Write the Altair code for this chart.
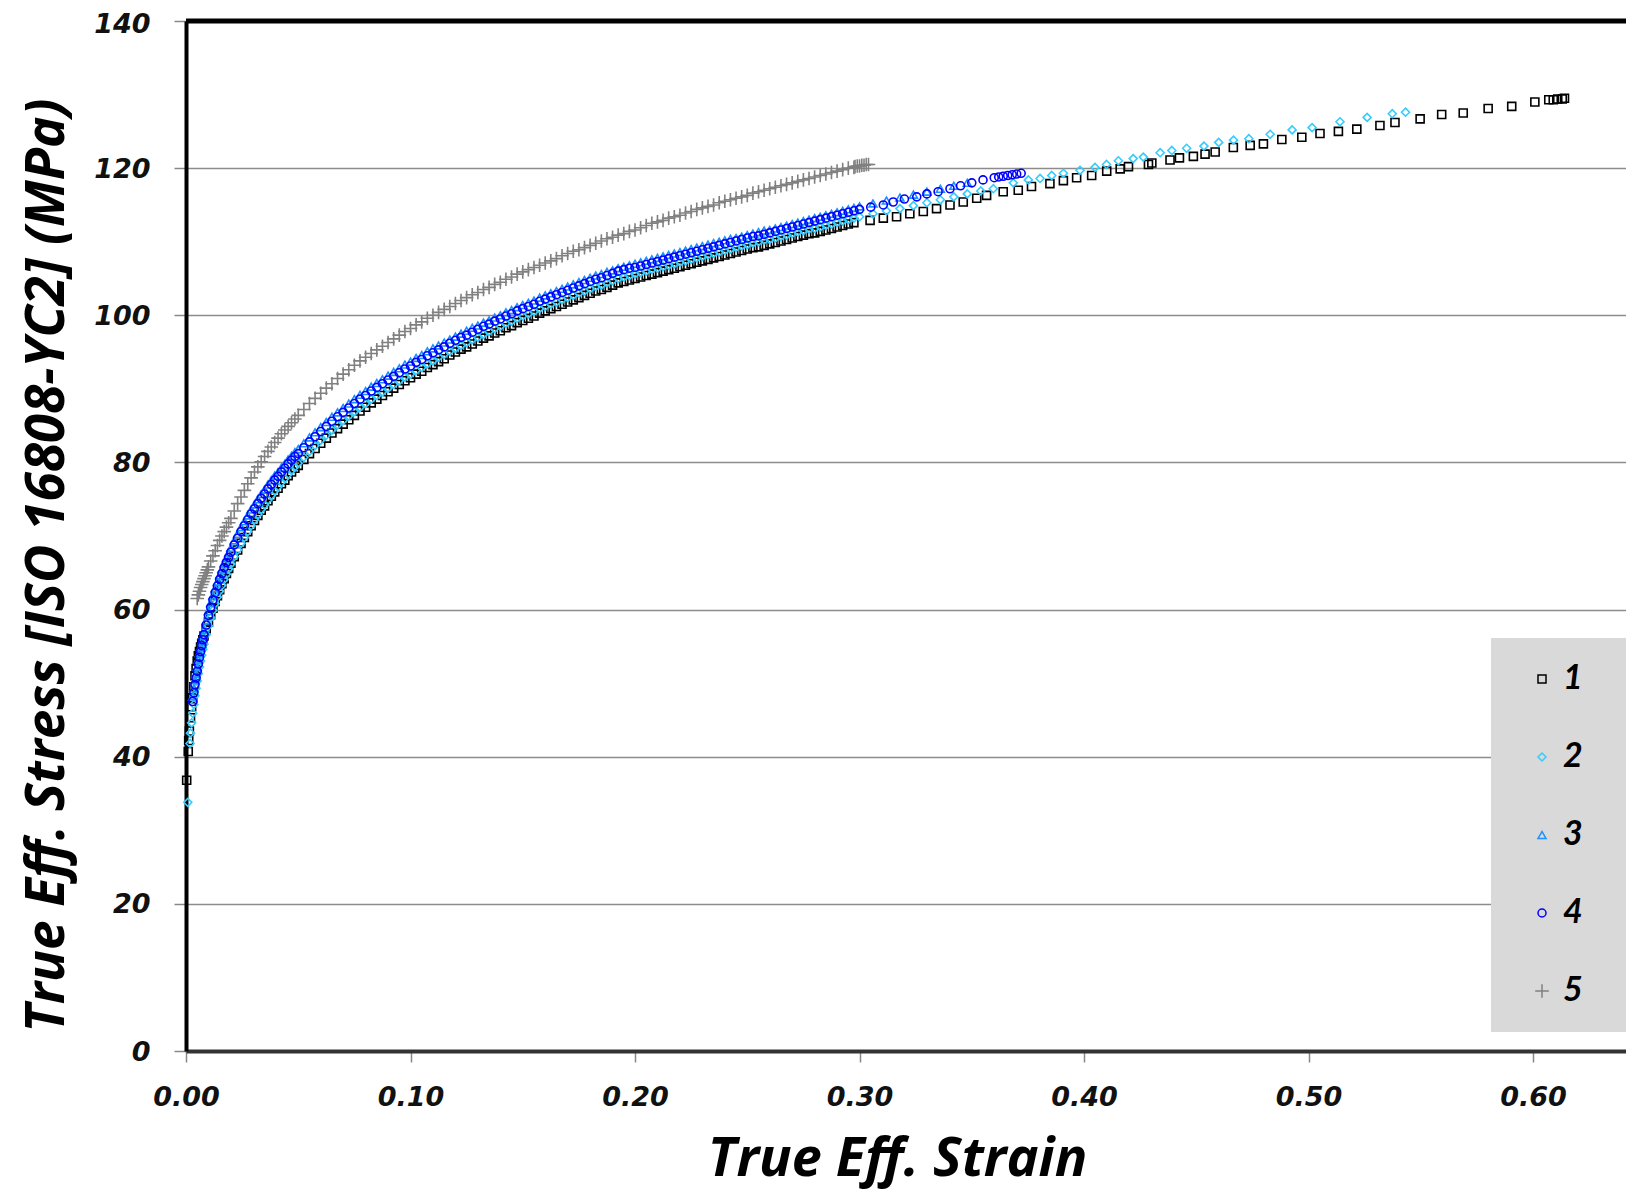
import altair as alt
import pandas as pd

# ---- data ----
series_names = ["1", "2", "3", "4", "5"]
series_colors = ["#000000", "#33ccff", "#1e90ff", "#0000ff", "#808080"]

strain_grid = [0.003, 0.004, 0.005, 0.006, 0.007, 0.008, 0.010, 0.012, 0.014, 0.016, 0.018, 0.020,
               0.023, 0.026, 0.029, 0.032, 0.035, 0.038, 0.041, 0.044, 0.047, 0.050,
               0.055, 0.060, 0.065, 0.070, 0.075, 0.080, 0.085, 0.090, 0.095, 0.100,
               0.105, 0.110, 0.115, 0.120, 0.125, 0.130, 0.135, 0.140, 0.145, 0.150,
               0.155, 0.160, 0.165, 0.170, 0.175, 0.180, 0.185, 0.190, 0.195, 0.200,
               0.205, 0.210, 0.215, 0.220, 0.225, 0.230, 0.235, 0.240, 0.245, 0.250,
               0.255, 0.260, 0.265, 0.270, 0.275, 0.280, 0.285, 0.290, 0.295]
strain_mid = [0.0035, 0.0045, 0.0055, 0.0065, 0.0075, 0.009, 0.011, 0.013, 0.015, 0.017, 0.019,
              0.0215, 0.0245, 0.0275, 0.0305, 0.0335, 0.0365, 0.0395, 0.0425, 0.0455, 0.0485,
              0.0525, 0.0575, 0.0625, 0.0675, 0.0725, 0.0775, 0.0825, 0.0875, 0.0925, 0.0975,
              0.1025, 0.1075, 0.1125, 0.1175, 0.1225, 0.1275, 0.1325, 0.1375, 0.1425, 0.1475,
              0.1525, 0.1575, 0.1625, 0.1675, 0.1725, 0.1775, 0.1825, 0.1875, 0.1925, 0.1975,
              0.2025, 0.2075, 0.2125, 0.2175, 0.2225, 0.2275, 0.2325, 0.2375, 0.2425, 0.2475,
              0.2525, 0.2575, 0.2625, 0.2675, 0.2725, 0.2775, 0.2825, 0.2875, 0.2925, 0.2975]

s1_head_strain = [0.0003, 0.001, 0.0012, 0.0015, 0.002, 0.0025]
s1_head_stress = [36.8, 40.7, 42.2, 43.5, 45.3, 46.8]
s1_grid_stress = [48.0, 51.0, 53.0, 54.3, 55.4, 56.4, 58.3, 60.2, 61.9, 63.5, 64.9, 66.3,
                  68.1, 69.8, 71.4, 72.8, 74.1, 75.4, 76.5, 77.6, 78.7, 79.6,
                  81.2, 82.6, 84.0, 85.2, 86.4, 87.5, 88.6, 89.6, 90.6, 91.5,
                  92.4, 93.3, 94.1, 95.0, 95.7, 96.5, 97.2, 97.9, 98.6, 99.3,
                  99.9, 100.6, 101.2, 101.8, 102.4, 103.0, 103.5, 104.1, 104.6, 105.0,
                  105.4, 105.8, 106.2, 106.6, 107.0, 107.4, 107.8, 108.2, 108.6, 109.0,
                  109.3, 109.7, 110.1, 110.5, 110.9, 111.2, 111.6, 112.0, 112.4]
s1_mid_stress = [49.5, 52.0, 53.7, 54.9, 55.9, 57.4, 59.3, 61.1, 62.7, 64.2, 65.6,
                 67.2, 69.0, 70.6, 72.1, 73.5, 74.8, 76.0, 77.1, 78.2, 79.2,
                 80.4, 81.9, 83.3, 84.6, 85.8, 87.0, 88.1, 89.1, 90.1, 91.1,
                 92.0, 92.9, 93.7, 94.6, 95.4, 96.1, 96.9, 97.6, 98.3, 99.0,
                 99.6, 100.3, 100.9, 101.5, 102.1, 102.7, 103.3, 103.8, 104.4, 104.8,
                 105.2, 105.6, 106.0, 106.4, 106.8, 107.2, 107.6, 108.0, 108.4, 108.8,
                 109.2, 109.5, 109.9, 110.3, 110.7, 111.1, 111.4, 111.8, 112.2, 112.6]
s1_tail_strain = [0.3047, 0.3106, 0.3165, 0.3224, 0.3284, 0.3343, 0.3403, 0.3462, 0.3522, 0.3566,
                  0.364, 0.3707, 0.3766, 0.3848, 0.3908, 0.3967, 0.4034, 0.4101, 0.4161, 0.4198,
                  0.4287, 0.4302, 0.4383, 0.4425, 0.4487, 0.4539, 0.4584, 0.4665, 0.474, 0.4799,
                  0.4881, 0.497, 0.5051, 0.5133, 0.5215, 0.5318, 0.5385, 0.5497, 0.5593, 0.5689,
                  0.580, 0.5905, 0.6008, 0.607, 0.609, 0.611, 0.613, 0.614]
s1_tail_stress = [112.9, 113.2, 113.4, 113.8, 114.1, 114.5, 115.0, 115.4, 115.9, 116.3,
                  116.8, 117.0, 117.5, 117.9, 118.3, 118.7, 119.0, 119.6, 119.9, 120.2,
                  120.5, 120.7, 121.1, 121.4, 121.6, 121.9, 122.2, 122.8, 123.1, 123.3,
                  123.9, 124.2, 124.7, 125.0, 125.3, 125.8, 126.2, 126.7, 127.3, 127.5,
                  128.1, 128.4, 129.0, 129.3, 129.3, 129.4, 129.4, 129.5]

s2_head_strain = [0.0008, 0.0018, 0.002, 0.0025]
s2_head_stress = [33.8, 41.8, 43.2, 44.6]
s2_grid_stress = [45.9, 48.3, 50.3, 52.2, 53.8, 55.3, 57.8, 59.9, 61.7, 63.3, 64.8, 66.2,
                  68.1, 69.8, 71.4, 72.9, 74.2, 75.5, 76.7, 77.8, 78.9, 79.9,
                  81.5, 83.0, 84.4, 85.7, 86.9, 88.0, 89.1, 90.1, 91.1, 92.0,
                  92.9, 93.8, 94.7, 95.5, 96.3, 97.0, 97.8, 98.5, 99.2, 99.9,
                  100.5, 101.2, 101.8, 102.4, 103.0, 103.6, 104.1, 104.7, 105.2, 105.6,
                  106.0, 106.4, 106.8, 107.2, 107.6, 108.0, 108.4, 108.8, 109.2, 109.6,
                  110.0, 110.3, 110.7, 111.1, 111.5, 111.8, 112.2, 112.6, 113.0]
s2_mid_stress = [47.1, 49.3, 51.3, 53.0, 54.6, 56.6, 58.9, 60.8, 62.5, 64.1, 65.5,
                 67.2, 69.0, 70.6, 72.2, 73.6, 74.9, 76.1, 77.3, 78.4, 79.4,
                 80.7, 82.3, 83.7, 85.1, 86.3, 87.5, 88.6, 89.6, 90.6, 91.6,
                 92.5, 93.4, 94.3, 95.1, 95.9, 96.7, 97.4, 98.2, 98.9, 99.6,
                 100.2, 100.9, 101.5, 102.1, 102.7, 103.3, 103.9, 104.4, 105.0, 105.4,
                 105.8, 106.2, 106.6, 107.0, 107.4, 107.8, 108.2, 108.6, 109.0, 109.4,
                 109.8, 110.2, 110.5, 110.9, 111.3, 111.7, 112.0, 112.4, 112.8, 113.2]
s2_tail_strain = [0.300, 0.306, 0.312, 0.318, 0.324, 0.330, 0.336, 0.342, 0.348, 0.354,
                  0.3596, 0.3685, 0.3752, 0.3804, 0.3856, 0.3908, 0.3982, 0.4049, 0.410, 0.4153,
                  0.4219, 0.4264, 0.4339, 0.4391, 0.4457, 0.4534, 0.460, 0.4666, 0.4734, 0.4829,
                  0.4927, 0.5016, 0.514, 0.5261, 0.5373, 0.5432]
s2_tail_stress = [113.4, 113.8, 114.2, 114.5, 114.9, 115.3, 115.7, 116.1, 116.5, 116.9,
                  117.2, 118.0, 118.4, 118.6, 119.0, 119.3, 119.7, 120.1, 120.5, 121.0,
                  121.3, 121.5, 122.1, 122.4, 122.7, 123.0, 123.5, 123.8, 124.0, 124.6,
                  125.2, 125.5, 126.3, 126.9, 127.4, 127.6]

s3_grid_stress = [48.2, 50.4, 52.2, 54.1, 55.7, 57.2, 59.8, 61.9, 63.8, 65.5, 67.0, 68.4,
                  70.3, 72.0, 73.6, 75.0, 76.3, 77.6, 78.7, 79.8, 80.9, 81.8,
                  83.4, 84.8, 86.2, 87.4, 88.6, 89.7, 90.8, 91.8, 92.8, 93.7,
                  94.6, 95.5, 96.3, 97.1, 97.9, 98.6, 99.3, 100.0, 100.7, 101.4,
                  102.0, 102.7, 103.3, 103.9, 104.5, 105.1, 105.6, 106.1, 106.6, 107.0,
                  107.4, 107.8, 108.2, 108.6, 109.0, 109.4, 109.8, 110.2, 110.5, 110.9,
                  111.3, 111.6, 112.0, 112.4, 112.8, 113.2, 113.6, 114.0, 114.4]
s3_mid_stress = [49.3, 51.3, 53.2, 54.9, 56.5, 58.5, 60.9, 62.9, 64.7, 66.3, 67.7,
                 69.4, 71.2, 72.8, 74.3, 75.7, 77.0, 78.2, 79.3, 80.4, 81.4,
                 82.6, 84.1, 85.5, 86.8, 88.0, 89.2, 90.3, 91.3, 92.3, 93.3,
                 94.2, 95.1, 95.9, 96.7, 97.5, 98.3, 99.0, 99.7, 100.4, 101.1,
                 101.7, 102.4, 103.0, 103.6, 104.2, 104.8, 105.4, 105.9, 106.4, 106.8,
                 107.2, 107.6, 108.0, 108.4, 108.8, 109.2, 109.6, 110.0, 110.4, 110.7,
                 111.1, 111.5, 111.8, 112.2, 112.6, 113.0, 113.4, 113.8, 114.2, 114.6]
s3_tail_strain = [0.300, 0.306, 0.312, 0.318, 0.324, 0.330, 0.336, 0.342, 0.348]
s3_tail_stress = [114.8, 115.2, 115.6, 116.0, 116.4, 116.8, 117.2, 117.6, 118.0]

s4_grid_stress = [47.5, 49.8, 51.6, 53.5, 55.1, 56.6, 59.2, 61.3, 63.2, 64.9, 66.4, 67.8,
                  69.7, 71.4, 73.0, 74.4, 75.7, 77.0, 78.1, 79.2, 80.3, 81.2,
                  82.8, 84.2, 85.6, 86.8, 88.0, 89.1, 90.2, 91.2, 92.2, 93.1,
                  94.0, 94.9, 95.7, 96.6, 97.3, 98.1, 98.8, 99.5, 100.2, 100.9,
                  101.5, 102.2, 102.8, 103.4, 104.0, 104.6, 105.1, 105.7, 106.2, 106.5,
                  106.9, 107.3, 107.7, 108.1, 108.5, 108.9, 109.3, 109.7, 110.1, 110.5,
                  110.8, 111.2, 111.6, 112.0, 112.4, 112.8, 113.2, 113.6, 114.0]
s4_mid_stress = [48.7, 50.7, 52.6, 54.3, 55.9, 57.9, 60.3, 62.3, 64.1, 65.7, 67.1,
                 68.8, 70.6, 72.2, 73.7, 75.1, 76.4, 77.6, 78.7, 79.8, 80.8,
                 82.0, 83.5, 84.9, 86.2, 87.4, 88.6, 89.7, 90.7, 91.7, 92.7,
                 93.6, 94.5, 95.3, 96.2, 97.0, 97.7, 98.5, 99.2, 99.9, 100.6,
                 101.2, 101.9, 102.5, 103.1, 103.7, 104.3, 104.9, 105.4, 106.0, 106.4,
                 106.7, 107.1, 107.5, 107.9, 108.3, 108.7, 109.1, 109.5, 109.9, 110.3,
                 110.7, 111.0, 111.4, 111.8, 112.2, 112.6, 113.0, 113.4, 113.8, 114.2]
s4_tail_strain = [0.300, 0.305, 0.3106, 0.315, 0.320, 0.3255, 0.330, 0.335, 0.3403, 0.345,
                  0.350, 0.355, 0.360, 0.362, 0.364, 0.366, 0.368, 0.370, 0.372]
s4_tail_stress = [114.4, 114.7, 115.0, 115.4, 115.8, 116.1, 116.5, 116.8, 117.2, 117.6,
                  118.0, 118.4, 118.7, 118.8, 118.9, 119.0, 119.1, 119.2, 119.3]

s5_strain = [0.005, 0.006, 0.007, 0.008, 0.009, 0.010, 0.012, 0.014, 0.016, 0.018, 0.020,
             0.023, 0.026, 0.029, 0.032, 0.035, 0.038, 0.041, 0.044, 0.047, 0.050,
             0.055, 0.060, 0.065, 0.070, 0.075, 0.080, 0.085, 0.090, 0.095, 0.100,
             0.105, 0.110, 0.115, 0.120, 0.125, 0.130, 0.135, 0.140, 0.145, 0.150,
             0.155, 0.160, 0.165, 0.170, 0.175, 0.180, 0.185, 0.190, 0.195, 0.200,
             0.205, 0.210, 0.215, 0.220, 0.225, 0.230, 0.235, 0.240, 0.245, 0.250,
             0.255, 0.260, 0.265, 0.270, 0.275, 0.280, 0.285, 0.290, 0.295,
             0.298, 0.300, 0.302, 0.304]
s5_stress = [61.5, 62.5, 63.4, 64.2, 65.0, 65.8, 67.3, 68.7, 70.0, 71.2, 72.4,
             74.4, 76.2, 77.9, 79.4, 80.8, 82.1, 83.3, 84.4, 85.4, 86.4,
             88.0, 89.4, 90.7, 92.0, 93.2, 94.3, 95.3, 96.3, 97.3, 98.2,
             99.1, 100.0, 100.8, 101.6, 102.4, 103.1, 103.8, 104.5, 105.2, 105.9,
             106.5, 107.1, 107.7, 108.4, 108.9, 109.5, 110.1, 110.6, 111.1, 111.6,
             112.2, 112.7, 113.2, 113.6, 114.1, 114.6, 115.0, 115.5, 115.9, 116.3,
             116.8, 117.2, 117.6, 118.0, 118.4, 118.8, 119.2, 119.6, 120.0,
             120.2, 120.3, 120.4, 120.5]
s5_mid_strain = [0.0055, 0.0065, 0.0075, 0.0085, 0.0095, 0.011, 0.013, 0.015, 0.017, 0.019,
                 0.0215, 0.0245, 0.0275, 0.0305, 0.0335, 0.0365, 0.0395, 0.0425, 0.0455, 0.0485,
                 0.0525, 0.0575, 0.0625, 0.0675, 0.0725, 0.0775, 0.0825, 0.0875, 0.0925, 0.0975,
                 0.1025, 0.1075, 0.1125, 0.1175, 0.1225, 0.1275, 0.1325, 0.1375, 0.1425, 0.1475,
                 0.1525, 0.1575, 0.1625, 0.1675, 0.1725, 0.1775, 0.1825, 0.1875, 0.1925, 0.1975,
                 0.2025, 0.2075, 0.2125, 0.2175, 0.2225, 0.2275, 0.2325, 0.2375, 0.2425, 0.2475,
                 0.2525, 0.2575, 0.2625, 0.2675, 0.2725, 0.2775, 0.2825, 0.2875, 0.2925, 0.2975,
                 0.299, 0.301, 0.303]
s5_mid_stress = [62.0, 63.0, 63.8, 64.6, 65.4, 66.6, 68.0, 69.4, 70.6, 71.8,
                 73.4, 75.3, 77.1, 78.7, 80.1, 81.5, 82.7, 83.9, 84.9, 85.9,
                 87.2, 88.7, 90.1, 91.4, 92.6, 93.8, 94.8, 95.8, 96.8, 97.8,
                 98.7, 99.6, 100.4, 101.2, 102.0, 102.8, 103.5, 104.2, 104.9, 105.6,
                 106.2, 106.8, 107.4, 108.1, 108.7, 109.2, 109.8, 110.4, 110.9, 111.4,
                 111.9, 112.5, 112.9, 113.4, 113.9, 114.4, 114.8, 115.3, 115.7, 116.1,
                 116.6, 117.0, 117.4, 117.8, 118.2, 118.6, 119.0, 119.4, 119.8, 120.1,
                 120.3, 120.4, 120.5]

x_ticks = [0.0, 0.1, 0.2, 0.3, 0.4, 0.5, 0.6]
y_ticks = [0, 20, 40, 60, 80, 100, 120, 140]
x_title = "True Eff. Strain"
y_title = "True Eff. Stress [ISO 16808-YC2] (MPa)"

# ---- table ----
rows = []
def add(name, xs, ys):
    for a, b in zip(xs, ys):
        rows.append({"strain": a, "stress": b, "series": name})

add("1", s1_head_strain, s1_head_stress)
add("1", strain_grid, s1_grid_stress)
add("1", strain_mid, s1_mid_stress)
add("1", s1_tail_strain, s1_tail_stress)
add("2", s2_head_strain, s2_head_stress)
add("2", strain_grid, s2_grid_stress)
add("2", strain_mid, s2_mid_stress)
add("2", s2_tail_strain, s2_tail_stress)
add("3", strain_grid, s3_grid_stress)
add("3", strain_mid, s3_mid_stress)
add("3", s3_tail_strain, s3_tail_stress)
add("4", strain_grid, s4_grid_stress)
add("4", strain_mid, s4_mid_stress)
add("4", s4_tail_strain, s4_tail_stress)
add("5", s5_strain, s5_stress)
add("5", s5_mid_strain, s5_mid_stress)
df = pd.DataFrame(rows)

tick_font = "DejaVu Sans"
title_font = "Open Sans"
legend_font = "Lato"

legend = alt.Legend(
    title=None, orient="none", legendX=1305, legendY=617,
    fillColor="#d9d9d9", padding=24, rowPadding=44,
    symbolOffset=10, labelOffset=4, symbolStrokeWidth=1.5,
    labelExpr="datum.label + '\u2800'",
    labelFont=legend_font, labelFontSize=34, labelFontWeight="bold",
    labelFontStyle="italic", labelColor="#000000",
)

points = alt.Chart(df).mark_point(filled=False, strokeWidth=1.6, opacity=1).encode(
    x=alt.X("strain:Q",
            scale=alt.Scale(domain=[0, 0.6414], nice=False, zero=False),
            axis=alt.Axis(values=x_ticks, format=".2f", title=x_title, grid=False,
                          domainColor="#333333", domainWidth=4,
                          tickColor="#888888", tickSize=11, tickWidth=1.5,
                          labelFont=tick_font, labelFontSize=27, labelFontWeight="bold",
                          labelFontStyle="italic", labelColor="#111111", labelPadding=22,
                          labelFlush=False,
                          titleFont=title_font, titleFontSize=54, titleFontWeight="bold",
                          titleFontStyle="italic", titleColor="#000000",
                          titleX=711, titleY=124, titleAlign="center",
                          titleBaseline="alphabetic")),
    y=alt.Y("stress:Q",
            scale=alt.Scale(domain=[0, 140], nice=False),
            axis=alt.Axis(values=y_ticks, title=y_title, grid=True,
                          gridColor="#8c8c8c", gridWidth=1.5,
                          domainColor="#000000", domainWidth=4,
                          tickColor="#888888", tickSize=12, tickWidth=1.5,
                          labelFont=tick_font, labelFontSize=27, labelFontWeight="bold",
                          labelFontStyle="italic", labelColor="#111111", labelPadding=24,
                          labelFlush=False,
                          labelOffset={"condition": {"test": "datum.value == 140", "value": 3},
                                       "value": 1},
                          titleFont=title_font, titleFontSize=53, titleFontWeight="bold",
                          titleFontStyle="italic", titleColor="#000000",
                          titleX=-123, titleY=544, titleAngle=270, titleAlign="center",
                          titleBaseline="alphabetic")),
    color=alt.Color("series:N", scale=alt.Scale(domain=series_names, range=series_colors),
                    legend=legend),
    shape=alt.Shape("series:N", scale=alt.Scale(
        domain=series_names,
        range=["square", "diamond", "triangle-up", "circle", "M-1.7,0H1.7M0,-1.7V1.7"]),
        legend=legend),
    size=alt.Size("series:N", scale=alt.Scale(domain=series_names,
                                              range=[64, 64, 50, 60, 100]),
                  legend=legend),
)

top_border = alt.Chart(pd.DataFrame({"stress": [140]})).mark_rule(
    color="#000000", strokeWidth=5).encode(
    y=alt.Y("stress:Q", title=y_title))

chart = alt.layer(points, top_border).properties(
    width=1440, height=1030,
    autosize=alt.AutoSizeParams(type="none"),
    padding={"left": 178, "top": 13, "right": 0, "bottom": 148},
).configure_view(stroke=None).configure(background="white")

chart.save("out.html", embed_options={"renderer": "svg", "actions": False})
